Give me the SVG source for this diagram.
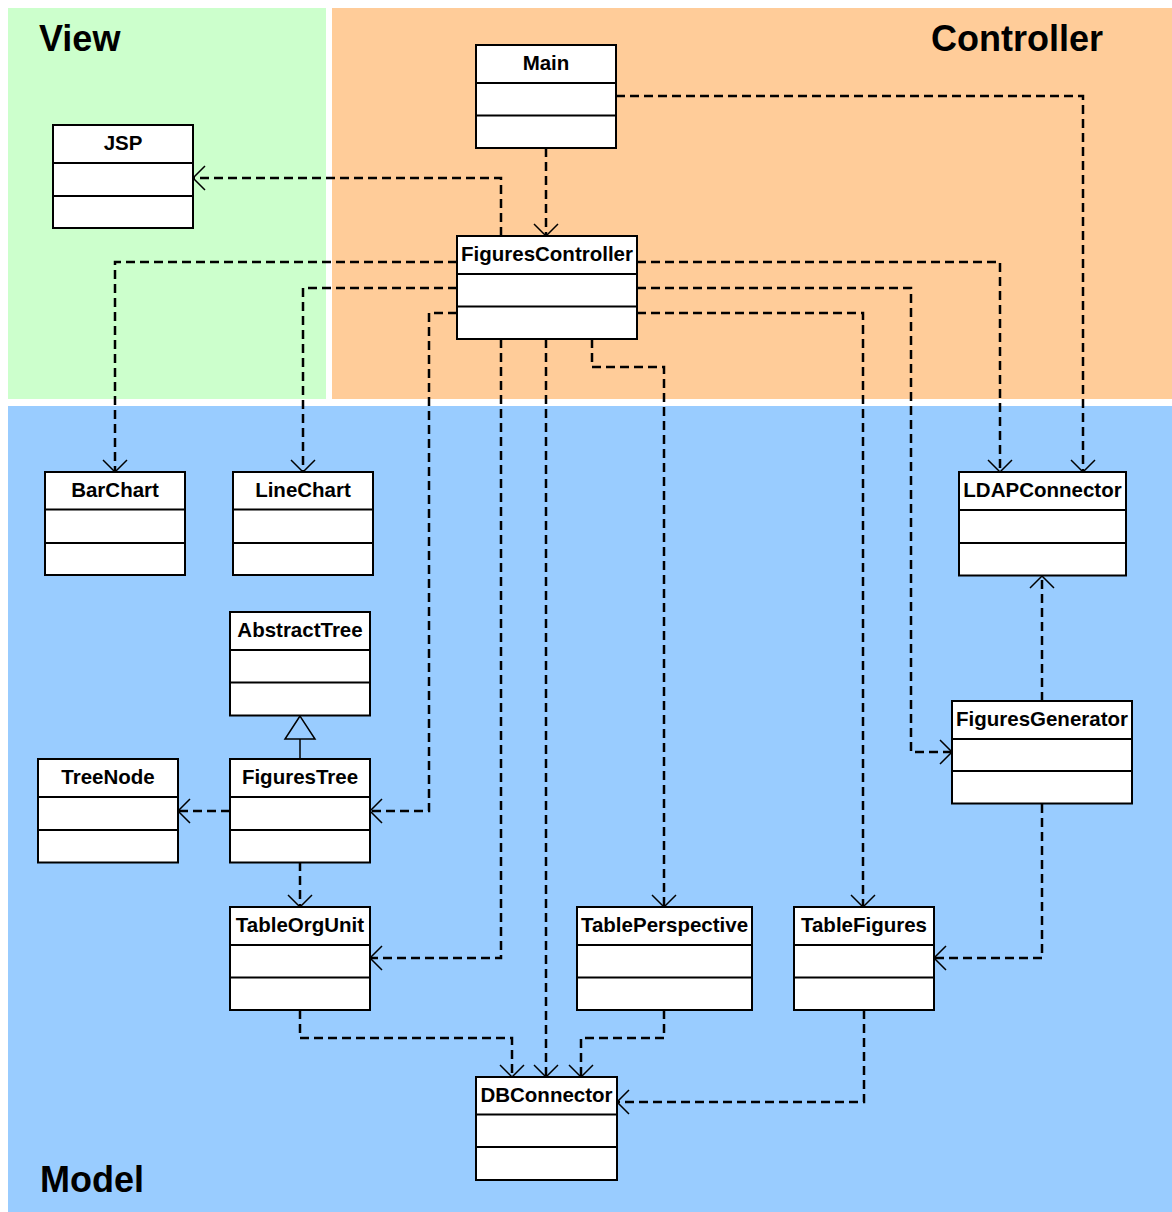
<svg xmlns="http://www.w3.org/2000/svg" width="1172" height="1212" viewBox="0 0 1172 1212">
  <style>
    .title { font-family: "Liberation Sans", Arial, sans-serif; font-weight: bold; font-size: 36px; fill: #000; }
    .cls rect { fill: #fff; stroke: #000; stroke-width: 2; }
    .cls line { stroke: #000; stroke-width: 2; }
    .cls text { font-family: "Liberation Sans", Arial, sans-serif; font-weight: bold; font-size: 20.5px; fill: #000; text-anchor: middle; }
    .dep { fill: none; stroke: #000; stroke-width: 2.5; stroke-dasharray: 9 5; }
    .gen { fill: none; stroke: #000; stroke-width: 1.5; }
  </style>
  <defs>
    <marker id="open" markerUnits="userSpaceOnUse" markerWidth="30" markerHeight="30" viewBox="-15 -15 30 30" refX="0" refY="0" orient="auto" overflow="visible">
      <path d="M-12,-12 L0,0 L-12,12" fill="none" stroke="#000" stroke-width="1.5" stroke-dasharray="none"/>
    </marker>
  </defs>

  <rect width="1172" height="1212" fill="#fff"/>

  <!-- layers -->
  <g id="layers">
    <rect x="8" y="8" width="318" height="391" fill="#CCFFCC"/>
    <rect x="332" y="8" width="840" height="391" fill="#FFCC99"/>
    <rect x="8" y="406" width="1164" height="806" fill="#99CCFF"/>
    <text class="title" x="39" y="51">View</text>
    <text class="title" x="931" y="51">Controller</text>
    <text class="title" x="40" y="1192">Model</text>
  </g>

  <!-- dependencies -->
  <g id="connectors">
    <path class="dep" d="M546,148 V236" marker-end="url(#open)"/>
    <path class="dep" d="M616,96 H1083 V472" marker-end="url(#open)"/>
    <path class="dep" d="M501,236 V178 H193" marker-end="url(#open)"/>
    <path class="dep" d="M457,262 H115 V472" marker-end="url(#open)"/>
    <path class="dep" d="M457,288 H303 V472" marker-end="url(#open)"/>
    <path class="dep" d="M457,313 H429 V811 H370" marker-end="url(#open)"/>
    <path class="dep" d="M501,339 V958 H370" marker-end="url(#open)"/>
    <path class="dep" d="M546,339 V1077" marker-end="url(#open)"/>
    <path class="dep" d="M592,339 V367 H664 V907" marker-end="url(#open)"/>
    <path class="dep" d="M637,313 H863 V907" marker-end="url(#open)"/>
    <path class="dep" d="M637,288 H911 V752 H952" marker-end="url(#open)"/>
    <path class="dep" d="M637,262 H1000 V472" marker-end="url(#open)"/>
    <path class="dep" d="M1042,701 V576" marker-end="url(#open)"/>
    <path class="dep" d="M1042,804 V958 H934" marker-end="url(#open)"/>
    <path class="dep" d="M230,811 H178" marker-end="url(#open)"/>
    <path class="dep" d="M300,862 V907" marker-end="url(#open)"/>
    <path class="dep" d="M300,1010 V1038 H512 V1077" marker-end="url(#open)"/>
    <path class="dep" d="M664,1010 V1038 H581 V1077" marker-end="url(#open)"/>
    <path class="dep" d="M864,1010 V1102 H617" marker-end="url(#open)"/>
    <!-- FiguresTree extends AbstractTree -->
    <path class="gen" d="M300,759 V739"/>
    <polygon class="gen" points="300,716 285,739 315,739" fill="#fff"/>
  </g>

  <!-- classes -->
  <g id="Main" class="cls">
    <rect x="476" y="45" width="140" height="103"/>
    <line x1="476" y1="83" x2="616" y2="83"/><line x1="476" y1="115.5" x2="616" y2="115.5"/>
    <text x="546" y="70">Main</text>
  </g>
  <g id="JSP" class="cls">
    <rect x="53" y="125" width="140" height="103"/>
    <line x1="53" y1="163" x2="193" y2="163"/><line x1="53" y1="196" x2="193" y2="196"/>
    <text x="123" y="150">JSP</text>
  </g>
  <g id="FiguresController" class="cls">
    <rect x="457" y="236" width="180" height="103"/>
    <line x1="457" y1="274" x2="637" y2="274"/><line x1="457" y1="306.5" x2="637" y2="306.5"/>
    <text x="547" y="261">FiguresController</text>
  </g>
  <g id="BarChart" class="cls">
    <rect x="45" y="472" width="140" height="103"/>
    <line x1="45" y1="509.5" x2="185" y2="509.5"/><line x1="45" y1="543" x2="185" y2="543"/>
    <text x="115" y="497">BarChart</text>
  </g>
  <g id="LineChart" class="cls">
    <rect x="233" y="472" width="140" height="103"/>
    <line x1="233" y1="509.5" x2="373" y2="509.5"/><line x1="233" y1="543" x2="373" y2="543"/>
    <text x="303" y="497">LineChart</text>
  </g>
  <g id="LDAPConnector" class="cls">
    <rect x="959" y="472" width="167" height="103.5"/>
    <line x1="959" y1="510" x2="1126" y2="510"/><line x1="959" y1="543" x2="1126" y2="543"/>
    <text x="1042.5" y="497">LDAPConnector</text>
  </g>
  <g id="AbstractTree" class="cls">
    <rect x="230" y="612" width="140" height="103.5"/>
    <line x1="230" y1="650" x2="370" y2="650"/><line x1="230" y1="682.5" x2="370" y2="682.5"/>
    <text x="300" y="637">AbstractTree</text>
  </g>
  <g id="FiguresGenerator" class="cls">
    <rect x="952" y="701" width="180" height="102.5"/>
    <line x1="952" y1="739" x2="1132" y2="739"/><line x1="952" y1="771" x2="1132" y2="771"/>
    <text x="1042" y="726">FiguresGenerator</text>
  </g>
  <g id="TreeNode" class="cls">
    <rect x="38" y="759" width="140" height="103.5"/>
    <line x1="38" y1="797" x2="178" y2="797"/><line x1="38" y1="830" x2="178" y2="830"/>
    <text x="108" y="784">TreeNode</text>
  </g>
  <g id="FiguresTree" class="cls">
    <rect x="230" y="759" width="140" height="103.5"/>
    <line x1="230" y1="797" x2="370" y2="797"/><line x1="230" y1="830" x2="370" y2="830"/>
    <text x="300" y="784">FiguresTree</text>
  </g>
  <g id="TableOrgUnit" class="cls">
    <rect x="230" y="907" width="140" height="103"/>
    <line x1="230" y1="945" x2="370" y2="945"/><line x1="230" y1="977.5" x2="370" y2="977.5"/>
    <text x="300" y="932">TableOrgUnit</text>
  </g>
  <g id="TablePerspective" class="cls">
    <rect x="577" y="907" width="175" height="103"/>
    <line x1="577" y1="945" x2="752" y2="945"/><line x1="577" y1="977.5" x2="752" y2="977.5"/>
    <text x="664.5" y="932">TablePerspective</text>
  </g>
  <g id="TableFigures" class="cls">
    <rect x="794" y="907" width="140" height="103"/>
    <line x1="794" y1="945" x2="934" y2="945"/><line x1="794" y1="977.5" x2="934" y2="977.5"/>
    <text x="864" y="932">TableFigures</text>
  </g>
  <g id="DBConnector" class="cls">
    <rect x="476" y="1077" width="141" height="103"/>
    <line x1="476" y1="1114.5" x2="617" y2="1114.5"/><line x1="476" y1="1147" x2="617" y2="1147"/>
    <text x="546.5" y="1102">DBConnector</text>
  </g>
</svg>
